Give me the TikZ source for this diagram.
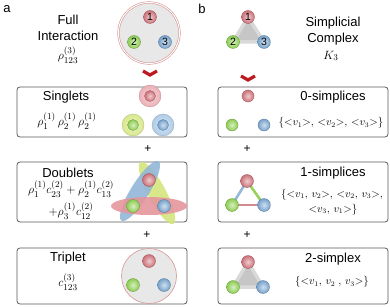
\documentclass[tikz,border=0pt]{standalone}
\usepackage{amsmath}
\usepackage{fontspec}
\setmainfont{Liberation Sans}
\usepackage{tikz}
\usetikzlibrary{shapes.geometric, positioning, calc}
\usepackage{xcolor}

\definecolor{ballred}{RGB}{205,112,120}
\definecolor{ballgreen}{RGB}{140,205,80}
\definecolor{ballblue}{RGB}{118,162,205}
\definecolor{halored}{RGB}{236,176,182}
\definecolor{halogreen}{RGB}{216,232,140}
\definecolor{haloblue}{RGB}{176,204,230}
\definecolor{blobred}{RGB}{228,150,156}
\definecolor{blobgreen}{RGB}{212,228,125}
\definecolor{blobblue}{RGB}{145,182,215}
\definecolor{ringred}{RGB}{215,150,150}
\definecolor{chevred}{RGB}{190,25,30}
\definecolor{edgeblue}{RGB}{150,185,215}
\definecolor{edgegreen}{RGB}{150,210,90}
\definecolor{edgered}{RGB}{212,140,146}

\begin{document}
\begin{tikzpicture}[
    x=1pt, y=-1pt,
    every node/.style={font=\fontsize{13}{15}\selectfont},
    panel/.style={rectangle, rounded corners=3pt, draw=black!65, line width=0.8pt, minimum width=170pt, inner sep=0pt},
    ball/.style={circle, inner sep=0pt, minimum size=13pt, draw=#1!75!black, line width=0.3pt, inner color=#1!35!white, outer color=#1, font=\fontsize{10.5}{10.5}\selectfont},
    halo/.style={circle, inner sep=0pt, minimum size=22pt, draw=#1!80!black, line width=0.3pt, inner color=#1!50!white, outer color=#1},
    blob/.style={ellipse, inner sep=0pt, minimum width=70pt, minimum height=18pt, fill=#1, opacity=0.9},
    disc/.style={circle, inner sep=0pt, fill=gray!18, draw=ringred, line width=0.6pt},
    chevron/.style={draw=chevred, line width=3.2pt, miter limit=4},
    simplex/.style={fill=gray!45, draw=gray!30, line width=3.5pt, line join=round},
    edge/.style={draw=#1, line width=2.6pt},
    settext/.style={font=\fontsize{10.5}{15}\selectfont, align=center},
    plus/.style={font=\fontsize{12}{12}\selectfont},
]
\useasboundingbox (0,0) rectangle (390,307);

% Panel labels
\node (lbla) at (7,9) {a};
\node (lblb) at (202,9) {b};

% Full interaction
\node (full) at (68,20) {Full};
\node (inter) at (68,36) {Interaction};
\node (rhofull) at (68,55) {$\rho_{123}^{(3)}$};
\node[disc, minimum size=61pt, double=white, double distance=1pt] (bigdisc) at (149,33) {};
\node[ball=ballred] (f1) at (150,17) {1};
\node[ball=ballgreen] (f2) at (134,42) {2};
\node[ball=ballblue] (f3) at (165,42) {3};
\coordinate (chevl) at (150,75);
\draw[chevron] ($(chevl)+(-7,-4)$) -- (chevl) -- ($(chevl)+(7,-4)$);

% Simplicial complex
\node (simp) at (333,23) {Simplicial};
\node (compl) at (333,39) {Complex};
\node (kthree) at (331,56) {$K_3$};
\coordinate (t1) at (248,17);
\coordinate (t2) at (233,42);
\coordinate (t3) at (264,42);
\draw[simplex] (t1) -- (t2) -- (t3) -- cycle;
\node[ball=ballred] (k1) at (t1) {1};
\node[ball=ballgreen] (k2) at (t2) {2};
\node[ball=ballblue] (k3) at (t3) {3};
\coordinate (chevr) at (248,80);
\draw[chevron] ($(chevr)+(-7,-4)$) -- (chevr) -- ($(chevr)+(7,-4)$);

% Singlets
\node[panel, minimum height=50pt] (singbox) at (102,112) {};
\node (singt) at (66,97) {Singlets};
\node (singf) at (67,121) {$\rho_1^{(1)}\,\rho_2^{(1)}\,\rho_2^{(1)}$};
\node[halo=halored] (sh1) at (150,96) {};
\node[halo=halogreen] (sh2) at (133,125) {};
\node[halo=haloblue] (sh3) at (163,125) {};
\node[ball=ballred, minimum size=11pt] (s1) at (sh1) {};
\node[ball=ballgreen, minimum size=11pt] (s2) at (sh2) {};
\node[ball=ballblue, minimum size=11pt] (s3) at (sh3) {};

% 0-simplices
\node[panel, minimum height=50pt] (zerobox) at (303,112) {};
\node (zerot) at (333,97) {0-simplices};
\node[settext] (zeros) at (331,123) {$\{{<}v_1{>},\,{<}v_2{>},\,{<}v_3{>}\}$};
\node[ball=ballred, minimum size=12pt] (z1) at (248,96) {};
\node[ball=ballgreen, minimum size=12pt] (z2) at (232,125) {};
\node[ball=ballblue, minimum size=12pt] (z3) at (264,125) {};

\node[plus] (plusa) at (148,149) {+};
\node[plus] (plusb) at (247,149) {+};

% Doublets
\node[panel, minimum height=60pt] (doubbox) at (102,192) {};
\node (doubt) at (68,173) {Doublets};
\node (doubf) at (71,189) {$\rho_1^{(1)}c_{23}^{(2)}+\rho_2^{(1)}c_{13}^{(2)}$};
\node (doubg) at (71,211) {$+\rho_3^{(1)}c_{12}^{(2)}$};
\node[blob=blobgreen, minimum width=70pt, rotate=118] (dg) at (157,193) {};
\node[blob=blobblue, minimum width=70pt, rotate=58] (db) at (140,191) {};
\node[blob=blobred, minimum width=76pt] (dr) at (149,206) {};
\node[ball=ballred] (d1) at (149,180) {};
\node[ball=ballgreen] (d2) at (133,206) {};
\node[ball=ballblue] (d3) at (164,206) {};

% 1-simplices
\node[panel, minimum height=60pt] (onebox) at (303,192) {};
\node (onet) at (333,173) {1-simplices};
\node[settext] (ones) at (332,202) {$\{{<}v_1,\,v_2{>},\,{<}v_2,\,v_3{>},$\\$\,{<}v_3,\,v_1{>}\}$};
\coordinate (e1) at (247,181);
\coordinate (e2) at (232,205);
\coordinate (e3) at (264,205);
\draw[edge=edgeblue] (e1) -- (e2);
\draw[edge=edgegreen] (e1) -- (e3);
\draw[edge=edgered] (e2) -- (e3);
\node[ball=ballred] (o1) at (e1) {};
\node[ball=ballgreen] (o2) at (e2) {};
\node[ball=ballblue] (o3) at (e3) {};

\node[plus] (plusc) at (147,235) {+};
\node[plus] (plusd) at (247,235) {+};

% Triplet
\node[panel, minimum height=56pt] (tripbox) at (102,276) {};
\node (tript) at (68,258) {Triplet};
\node (tripf) at (68,282) {$c_{123}^{(3)}$};
\node[disc, minimum size=55pt] (tripdisc) at (149,276) {};
\node[ball=ballred] (p1) at (149,261) {};
\node[ball=ballgreen] (p2) at (133,285) {};
\node[ball=ballblue] (p3) at (164,285) {};

% 2-simplex
\node[panel, minimum height=56pt] (twobox) at (303,276) {};
\node (twot) at (333,259) {2-simplex};
\node[settext] (twos) at (332,282) {$\{{<}v_1,\,v_2\;,\,v_3{>}\}$};
\coordinate (u1) at (248,262);
\coordinate (u2) at (233,287);
\coordinate (u3) at (263,287);
\draw[simplex] (u1) -- (u2) -- (u3) -- cycle;
\node[ball=ballred] (w1) at (u1) {};
\node[ball=ballgreen] (w2) at (u2) {};
\node[ball=ballblue] (w3) at (u3) {};

\end{tikzpicture}
\end{document}
